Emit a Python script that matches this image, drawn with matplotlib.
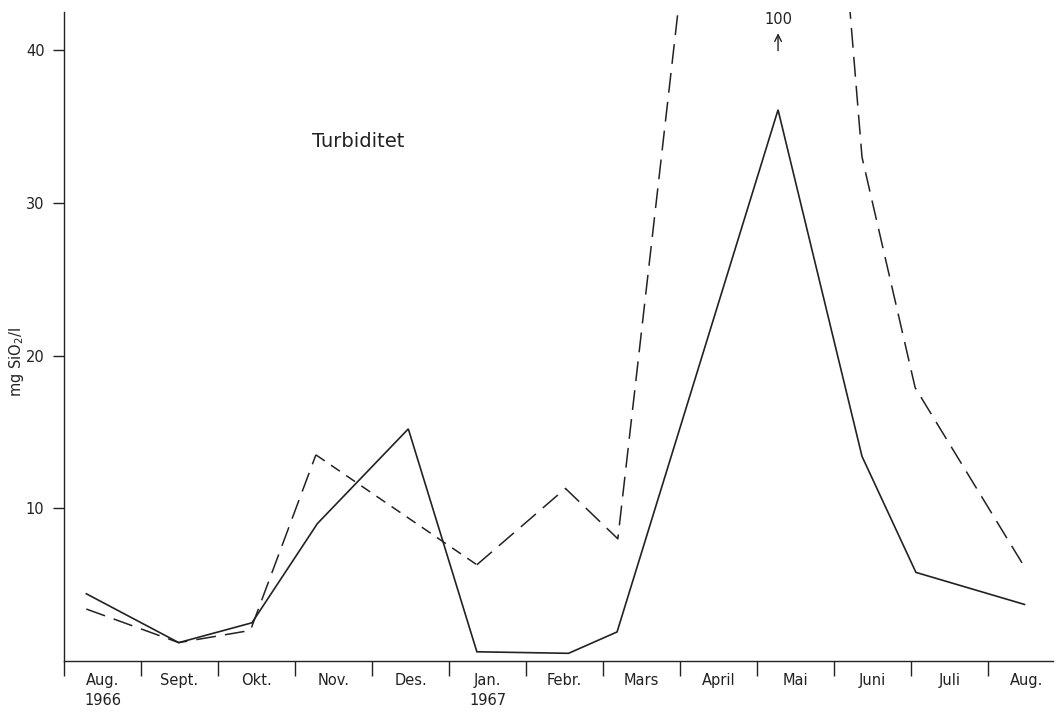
import matplotlib
matplotlib.use("Agg")
import matplotlib.pyplot as plt
import numpy as np

# month labels sit between the boundary ticks at 0..12
months = ["Aug.\n1966", "Sept.", "Okt.", "Nov.", "Des.", "Jan.\n1967", "Febr.",
          "Mars", "April", "Mai", "Juni", "Juli", "Aug."]

# sampling dates in month units from the left axis
solid_x = [0.29, 1.49, 2.44, 3.29, 4.47, 5.36, 6.55, 7.18, 9.27, 10.36, 11.06, 12.47]
solid_y = [4.4, 1.2, 2.5, 9.0, 15.2, 0.6, 0.5, 1.9, 36.1, 13.4, 5.8, 3.7]

dash_x = [0.29, 1.49, 2.42, 3.27, 5.36, 6.51, 7.19, 9.27, 10.36, 11.05, 12.44]
dash_y = [3.4, 1.2, 2.0, 13.5, 6.3, 11.3, 8.0, 100, 33.0, 17.9, 6.4]

peak_label = "100"

ink = "#222222"
fig = plt.figure(figsize=(10.56, 7.13), dpi=100)
ax = fig.add_axes([0.0606, 0.073, 0.9366, 0.910])

ax.plot(solid_x, solid_y, color=ink, lw=1.2, solid_joinstyle="miter")

# long dashes up to Nov., short ones Nov.-Jan., long again afterwards
ax.plot(dash_x[:4], dash_y[:4], color=ink, lw=1.1, dashes=(13, 6))
ax.plot(dash_x[3:5], dash_y[3:5], color=ink, lw=1.1, dashes=(7, 5))
ax.plot(dash_x[4:], dash_y[4:], color=ink, lw=1.1, dashes=(13, 6))

ax.annotate("", xy=(dash_x[7], 41.3), xytext=(dash_x[7], 39.8),
            arrowprops=dict(arrowstyle="->", color=ink, lw=1.0, mutation_scale=12),
            annotation_clip=False)
ax.text(dash_x[7], 42.0, peak_label, ha="center", va="center", fontsize=10.5, color=ink)

ax.text(3.82, 34.0, "Turbiditet", ha="center", va="center", fontsize=14, color=ink)

ax.set_xlim(0, 12.84)
ax.set_ylim(0, 42.5)

ax.set_xticks(np.arange(0, 13))
ax.set_xticklabels([])
ax.set_xticks(np.arange(13) + 0.5, minor=True)
ax.set_xticklabels(months, minor=True, fontsize=10.5, color=ink, linespacing=1.4)
ax.tick_params(axis="x", which="major", direction="out", length=11, width=1.0, color=ink)
ax.tick_params(axis="x", which="minor", length=0, pad=9)

ax.set_yticks([10, 20, 30, 40])
ax.tick_params(axis="y", direction="out", length=8, width=1.0, color=ink,
               labelsize=10.5, labelcolor=ink, pad=6)

ax.set_ylabel("mg SiO$_2$/l", fontsize=10.5, color=ink)
ax.yaxis.set_label_coords(-0.038, 0.46)

for side in ["top", "right"]:
    ax.spines[side].set_visible(False)
for side in ["left", "bottom"]:
    ax.spines[side].set_color(ink)
    ax.spines[side].set_linewidth(1.0)

fig.savefig("out.png", dpi=100)
